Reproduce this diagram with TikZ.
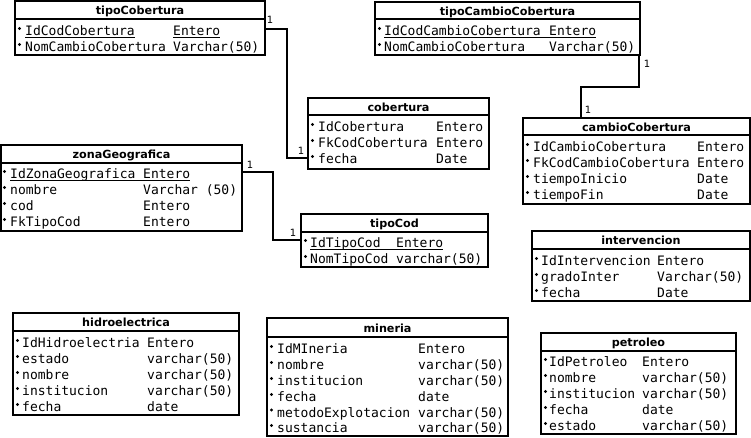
\documentclass[tikz,border=0pt]{standalone}
\usepackage{fontspec}
\newfontfamily\monof{DejaVu Sans Mono}
\newfontfamily\titlef{DejaVu Sans}
\tikzset{
  tbox/.style={draw, line width=2pt, inner sep=0pt, rectangle},
  sepline/.style={line width=2pt},
  ttitle/.style={anchor=base, inner sep=0pt, font=\titlef\bfseries\fontsize{11.2}{13}\selectfont},
  fname/.style={anchor=base west, inner sep=0pt, font=\monof\fontsize{13}{15}\selectfont},
  bulletdot/.style={fill=black},
  uline/.style={line width=1pt},
  conn/.style={line width=2pt},
  card/.style={inner sep=0pt, font=\titlef\fontsize{10}{11}\selectfont},
}
% id, left, top, right, bottom, sep, title
\newcommand\ertable[7]{%
  \node[tbox, minimum width={(#4-#2)*1pt}, minimum height={(#5-#3)*1pt}] (#1) at ({(#2+#4)/2},{(#3+#5)/2}) {};
  \draw[sepline] (#2,#6) -- (#4,#6);
  \node[ttitle] (#1-title) at ({(#2+#4)/2},{(#3+#6)/2+4.5}) {#7};
}
% rowid, bulletx, namex, typex, y, name, type
\newcommand\errow[7]{%
  \fill[bulletdot] ({#2+0.5},{#5-2.5}) circle (1.7);
  \node[fname] (#1n) at (#3,{#5+4.5}) {#6};
  \node[fname] (#1t) at (#4,{#5+4.5}) {#7};
}
\begin{document}
\begin{tikzpicture}[x=1pt,y=-1pt]
\useasboundingbox (0,0) rectangle (751,437);

% tipoCobertura
\ertable{tc}{15}{1}{265}{55}{19}{tipoCobertura}
\errow{tc1}{19}{25}{173}{31}{IdCodCobertura}{Entero}
\errow{tc2}{19}{25}{173}{47}{NomCambioCobertura}{Varchar(50)}
\draw[uline] ([yshift=-1.5pt]tc1n.base west) -- ([yshift=-1.5pt]tc1n.base east);
\draw[uline] ([yshift=-1.5pt]tc1t.base west) -- ([yshift=-1.5pt]tc1t.base east);

% tipoCambioCobertura
\ertable{tcc}{375}{2}{640}{55}{19}{tipoCambioCobertura}
\errow{tcc1}{379}{384}{549}{31}{IdCodCambioCobertura}{Entero}
\errow{tcc2}{379}{384}{549}{47}{NomCambioCobertura}{Varchar(50)}
\draw[uline] ([yshift=-1.5pt]tcc1n.base west) -- ([yshift=-1.5pt]tcc1t.base east);

% cobertura
\ertable{cob}{308}{98}{489}{169}{115}{cobertura}
\errow{cob1}{312}{318}{436}{127}{IdCobertura}{Entero}
\errow{cob2}{312}{318}{436}{143}{FkCodCobertura}{Entero}
\errow{cob3}{312}{318}{436}{159}{fecha}{Date}

% cambioCobertura
\ertable{cc}{523}{118}{750}{204}{135}{cambioCobertura}
\errow{cc1}{527}{533}{697}{147}{IdCambioCobertura}{Entero}
\errow{cc2}{527}{533}{697}{163}{FkCodCambioCobertura}{Entero}
\errow{cc3}{527}{533}{697}{179}{tiempoInicio}{Date}
\errow{cc4}{527}{533}{697}{195}{tiempoFin}{Date}

% zonaGeografica
\ertable{zg}{1}{145}{242}{231}{163}{zonaGeografica}
\errow{zg1}{4}{10}{143}{174}{IdZonaGeografica}{Entero}
\errow{zg2}{4}{10}{143}{190}{nombre}{Varchar (50)}
\errow{zg3}{4}{10}{143}{206}{cod}{Entero}
\errow{zg4}{4}{10}{143}{222}{FkTipoCod}{Entero}
\draw[uline] ([yshift=-1.5pt]zg1n.base west) -- ([yshift=-1.5pt]zg1t.base east);

% tipoCod
\ertable{tcod}{301}{214}{488}{267}{232}{tipoCod}
\errow{tcod1}{305}{310}{396}{243}{IdTipoCod}{Entero}
\errow{tcod2}{305}{310}{396}{259}{NomTipoCod}{varchar(50)}
\draw[uline] ([yshift=-1.5pt]tcod1n.base west) -- ([yshift=-1.5pt]tcod1t.base east);

% intervencion
\ertable{iv}{532}{231}{750}{301}{249}{intervencion}
\errow{iv1}{536}{541}{657}{261}{IdIntervencion}{Entero}
\errow{iv2}{536}{541}{657}{277}{gradoInter}{Varchar(50)}
\errow{iv3}{536}{541}{657}{293}{fecha}{Date}

% hidroelectrica
\ertable{hi}{13}{313}{239}{415}{331}{hidroelectrica}
\errow{hi1}{17}{22}{147}{343}{IdHidroelectria}{Entero}
\errow{hi2}{17}{22}{147}{359}{estado}{varchar(50)}
\errow{hi3}{17}{22}{147}{375}{nombre}{varchar(50)}
\errow{hi4}{17}{22}{147}{391}{institucion}{varchar(50)}
\errow{hi5}{17}{22}{147}{407}{fecha}{date}

% mineria
\ertable{mi}{267}{318}{508}{436}{337}{mineria}
\errow{mi1}{271}{277}{418}{349}{IdMIneria}{Entero}
\errow{mi2}{271}{277}{418}{365}{nombre}{varchar(50)}
\errow{mi3}{271}{277}{418}{381}{institucion}{varchar(50)}
\errow{mi4}{271}{277}{418}{397}{fecha}{date}
\errow{mi5}{271}{277}{418}{412.5}{metodoExplotacion}{varchar(50)}
\errow{mi6}{271}{277}{418}{428}{sustancia}{varchar(50)}

% petroleo
\ertable{pe}{541}{333}{736}{434}{351}{petroleo}
\errow{pe1}{545}{549}{642}{362}{IdPetroleo}{Entero}
\errow{pe2}{545}{549}{642}{378}{nombre}{varchar(50)}
\errow{pe3}{545}{549}{642}{394}{institucion}{varchar(50)}
\errow{pe4}{545}{549}{642}{410}{fecha}{date}
\errow{pe5}{545}{549}{642}{426}{estado}{varchar(50)}

% connectors
\coordinate (k1a) at (287,29);
\coordinate (k1b) at (287,158);
\draw[conn] (tc.east |- k1a) -- (k1a) -- (k1b) -- (cob.west |- k1b);
\node[card] (k1s) at (270,20) {1};
\node[card] (k1e) at (301,151) {1};

\coordinate (k2a) at (639,87);
\coordinate (k2b) at (581,87);
\draw[conn] (tcc.south -| k2a) -- (k2a) -- (k2b) -- (cc.north -| k2b);
\node[card] (k2s) at (647,64) {1};
\node[card] (k2e) at (588,110) {1};

\coordinate (k3a) at (273,172);
\coordinate (k3b) at (273,240);
\draw[conn] (zg.east |- k3a) -- (k3a) -- (k3b) -- (tcod.west |- k3b);
\node[card] (k3s) at (250,165) {1};
\node[card] (k3e) at (293,233) {1};
\end{tikzpicture}
\end{document}
